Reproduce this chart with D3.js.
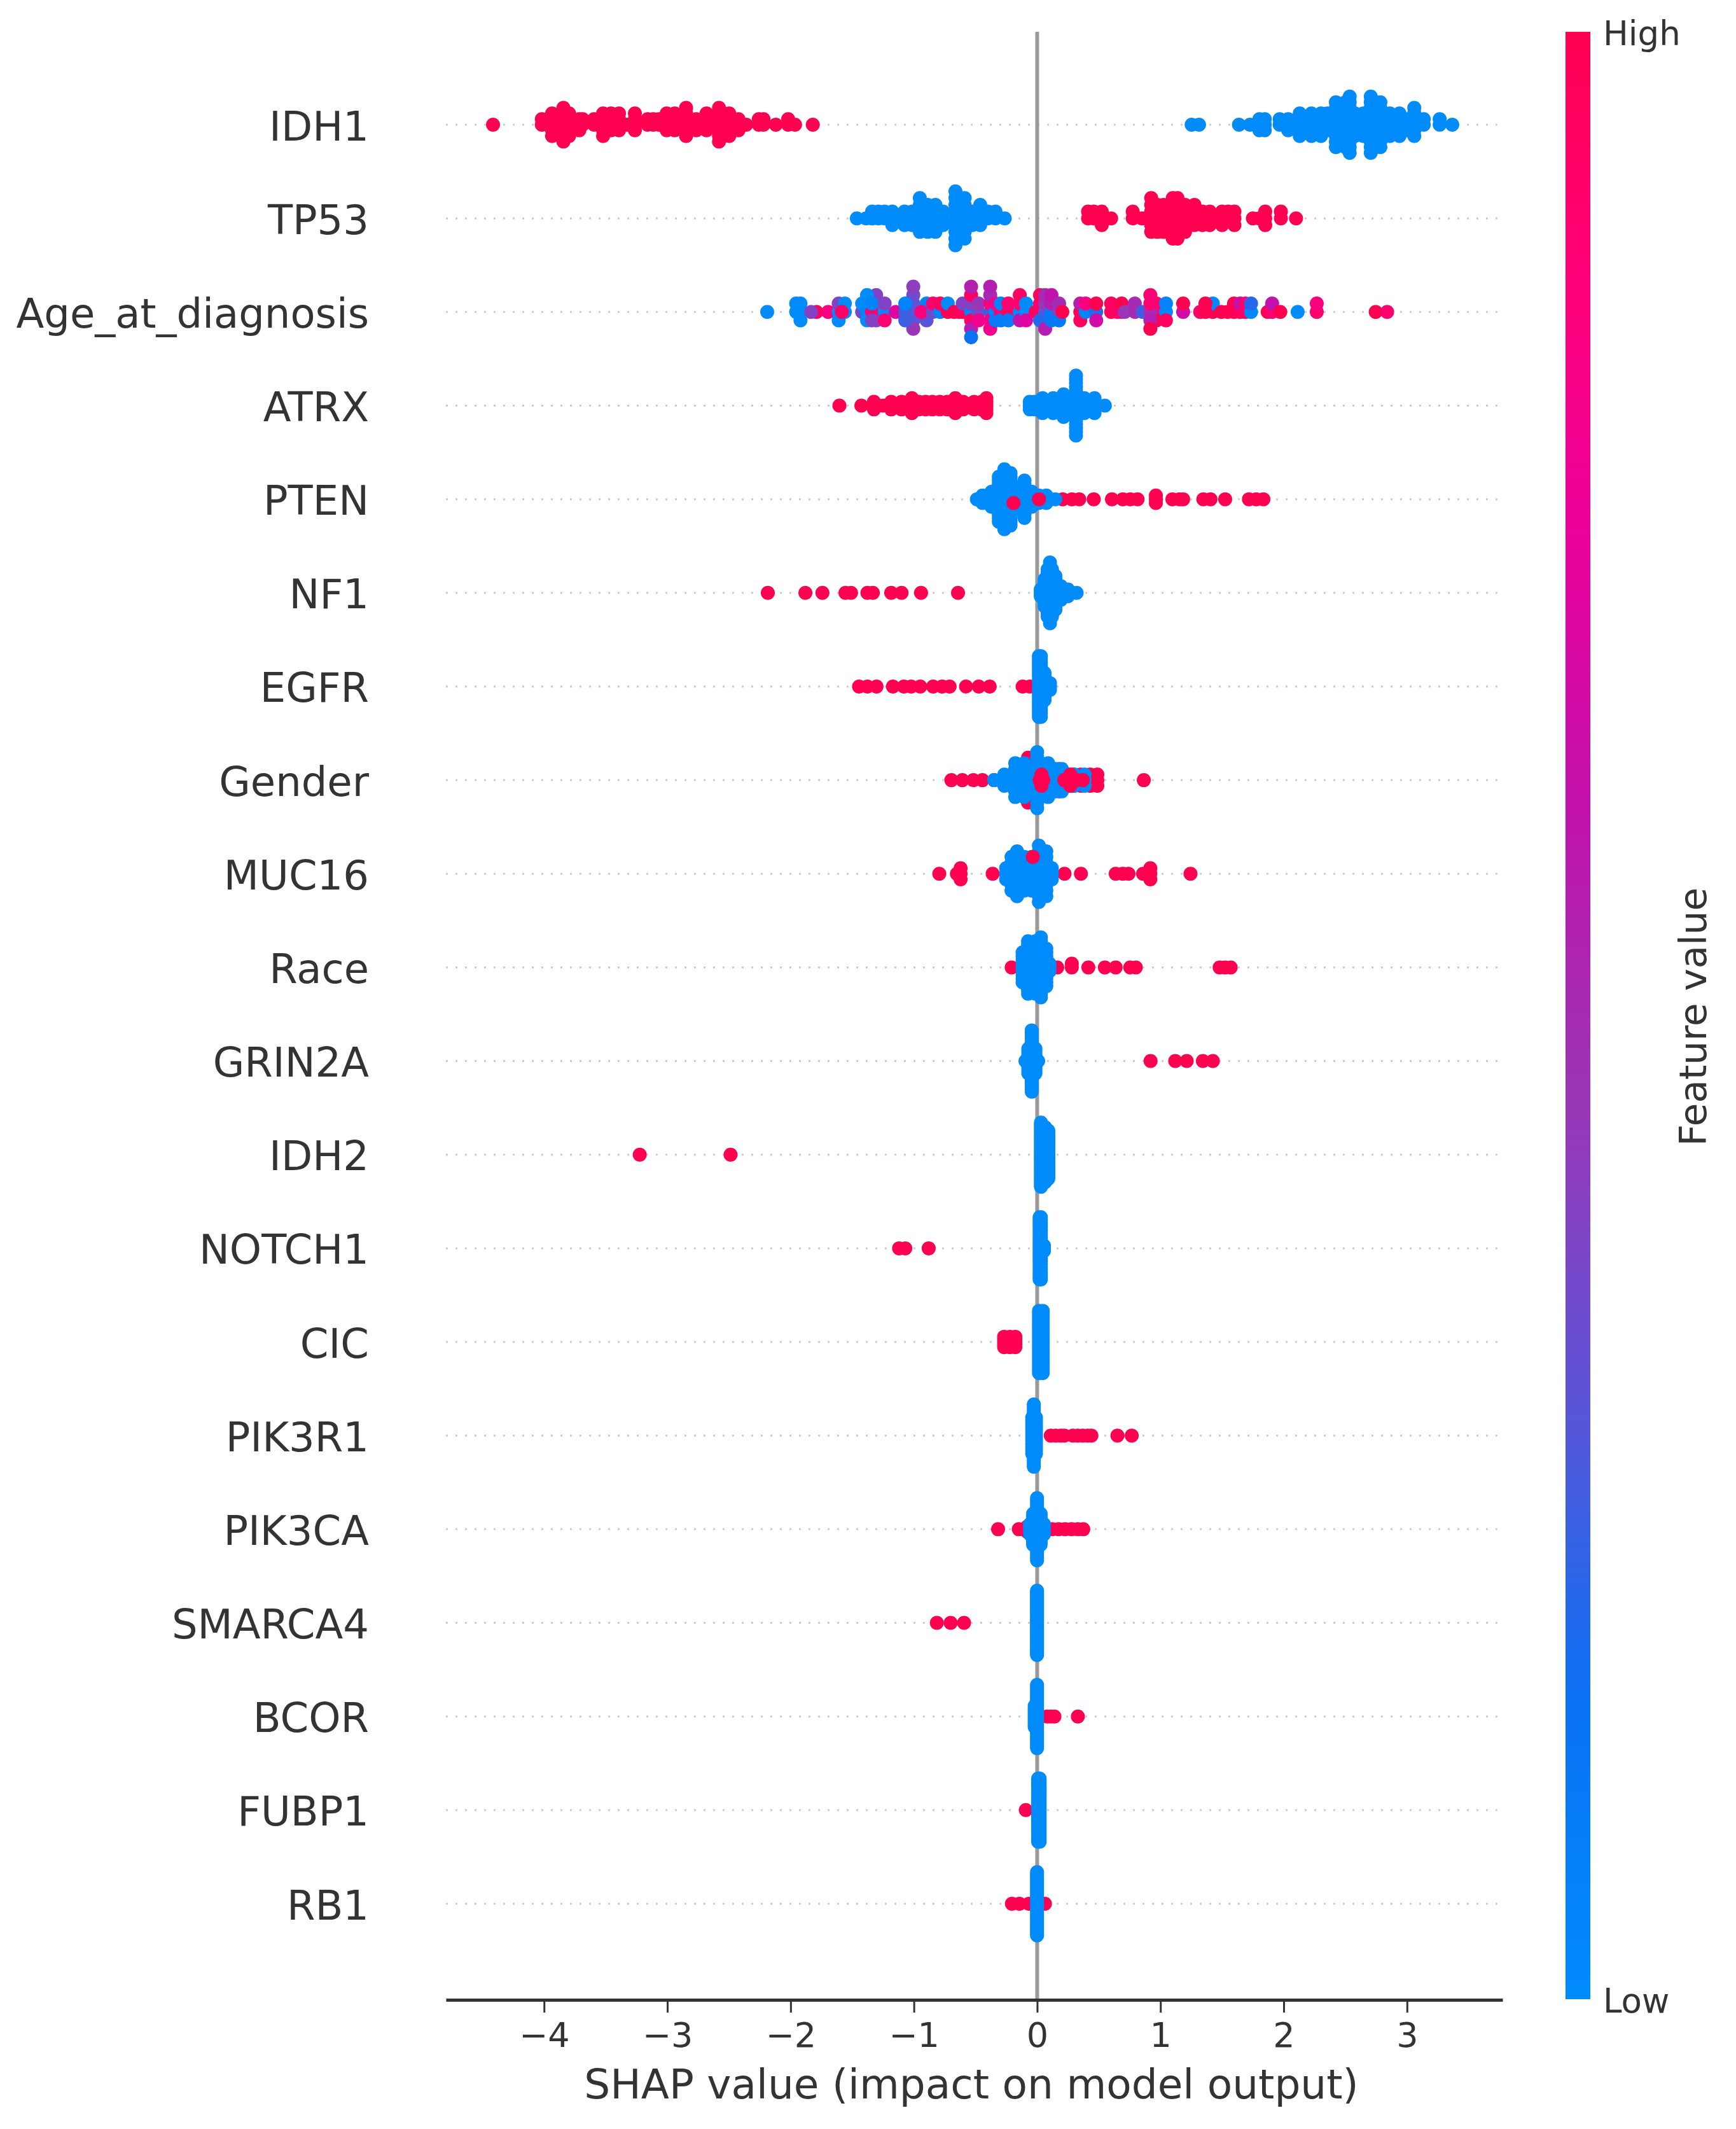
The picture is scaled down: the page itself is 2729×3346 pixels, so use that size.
<!DOCTYPE html>
<html>
<head>
<meta charset="utf-8">
<script src="https://cdn.jsdelivr.net/npm/d3@7"></script>
<style>
  html, body { margin: 0; padding: 0; background: #fff; }
  text { font-family: "DejaVu Sans", sans-serif; fill: #333; }
</style>
</head>
<body>
<svg id="chart"></svg>
<script>
// Feature names, top to bottom
const features = ["IDH1", "TP53", "Age_at_diagnosis", "ATRX", "PTEN", "NF1", "EGFR", "Gender", "MUC16", "Race",
  "GRIN2A", "IDH2", "NOTCH1", "CIC", "PIK3R1", "PIK3CA", "SMARCA4", "BCOR", "FUBP1", "RB1"];
const xTicks = [-4, -3, -2, -1, 0, 1, 2, 3];

// Each pair is [SHAP value, how many samples pile up at that value]
const idh1High = [[-4.414,1],[-4.018,2],[-3.935,5],[-3.843,7],[-3.797,5],[-3.714,3],[-3.687,2],[-3.594,2],[-3.521,5],[-3.456,4],[-3.392,4],[-3.327,1],[-3.263,4],[-3.16,2],[-3.114,2],[-3.068,2],[-3.005,4],[-2.94,4],[-2.848,6],[-2.765,3],[-2.682,4],[-2.581,7],[-2.498,5],[-2.423,3],[-2.36,1],[-2.258,2],[-2.22,2],[-2.12,1],[-2.02,2],[-1.964,1],[-1.82,1]];
const idh1Low = [[1.253,1],[1.313,1],[1.637,1],[1.726,1],[1.803,3],[1.846,3],[1.967,2],[2.036,3],[2.13,5],[2.225,5],[2.302,5],[2.354,4],[2.423,9],[2.5,9],[2.535,11],[2.577,5],[2.646,5],[2.706,11],[2.784,9],[2.861,5],[2.939,5],[3.007,3],[3.059,6],[3.136,2],[3.265,2],[3.367,1]];
const tp53High = [[0.413,2],[0.46,2],[0.524,3],[0.6,1],[0.775,2],[0.85,1],[0.925,6],[0.975,5],[1.025,5],[1.1,7],[1.138,7],[1.2,5],[1.276,4],[1.34,3],[1.4,3],[1.5,3],[1.55,2],[1.6,3],[1.75,1],[1.8,1],[1.85,3],[1.977,2],[2.1,1]];
const tp53Low = [[-1.463,1],[-1.388,1],[-1.339,2],[-1.288,2],[-1.238,2],[-1.175,3],[-1.076,3],[-1.014,3],[-0.952,6],[-0.888,5],[-0.825,5],[-0.763,3],[-0.663,9],[-0.588,7],[-0.525,3],[-0.462,4],[-0.4,2],[-0.338,2],[-0.263,1]];
// Age has mixed colours: [SHAP value, feature values from the middle of the pile outwards]
const ageColumns = [[-2.19,[0]],[-1.79,[.95]],[-1.955,[0,0]],[-1.92,[0,0,0]],[-1.834,[.4]],[-1.696,[.85]],[-1.61,[0,.4,0]],[-1.56,[0,0]],[-1.585,[.93]],
  [-1.306,[.9,.4,.4,.4]],[-1.42,[.35,0]],[-1.38,[.05,0,0,0]],[-1.34,[.9,.05,.4]],[-1.237,[0,.4,.9]],[-1.147,[.7]],[-1.005,[.3,.3,.3,.35,.45,.42]],[-1.07,[.25,.05,.25]],[-0.897,[.1,.05,.3]],[-0.94,[.85]],
  [-0.845,[.35,.9]],[-0.787,[.05,.95]],[-0.725,[1,0]],[-0.673,[1]],[-0.63,[.97]],[-0.604,[.97,.4]],[-0.536,[.05,.4,.95,.95,.55,.55,.15]],[-0.476,[.35,.45,.8]],[-0.381,[.25,.85,.8,.5,.8,.55]],[-0.338,[.05,.8,.1]],[-0.295,[.9,.05,.1]],[-0.234,[.95,.9,.08]],[-0.141,[.02,.9,.6,.95]],[-0.09,[0,0,.7]],[-0.012,[.97]],
  [0.023,[.95,.9,.2,.97]],[0.065,[.3,.45,.2,.5,.55]],[0.116,[.1,.55,.12,.6]],[0.178,[.4,.5,.12]],[0.204,[1]],[0.35,[.98,.55,.95]],[0.393,[.05,.85]],[0.479,[.2,1,.65]],[0.6,[.95,.95]],[0.651,[.95]],[0.685,[.9,1]],[0.71,[.45]],[0.792,[.5,.5]],[0.857,[.25]],[0.968,[.85,.9,1]],[0.918,[.5,.9,.55,.9,1]],[1.045,[.02,.05,.95]],[1.184,[.65,1]],[1.322,[.92]],[1.425,[1,.02]],[1.365,[1,1]],[1.494,[1]],[1.545,[1]],[1.597,[1,1]],[1.648,[.95,.6]],[1.69,[.95,.9]],[1.735,[.02,.2]],[1.87,[.98]],[1.906,[.9,.6]],[1.972,[1]],[2.113,[0]],[2.268,[.92,.85]],[2.746,[1]],[2.839,[.9]]];
const atrxHigh = [[-1.604,1],[-1.426,1],[-1.324,3],[-1.25,1],[-1.184,3],[-1.1,3],[-1.016,5],[-0.96,3],[-0.905,3],[-0.85,3],[-0.79,3],[-0.73,3],[-0.664,5],[-0.6,3],[-0.513,3],[-0.45,3],[-0.412,5]];
const atrxLow = [[-0.06,3],[-0.02,3],[0.044,5],[0.13,5],[0.214,7],[0.315,17],[0.382,5],[0.465,5],[0.549,1]];
const ptenHigh = [[0.207,1],[0.282,1],[0.341,1],[0.459,1],[0.607,1],[0.695,1],[0.756,1],[0.814,1],[0.963,3],[1.097,1],[1.155,1],[1.184,1],[1.348,1],[1.406,1],[1.525,1],[1.718,1],[1.777,1],[1.835,1]];
const ptenLow = [[-0.489,1],[-0.444,3],[-0.37,5],[-0.311,13],[-0.266,17],[-0.216,15],[-0.163,7],[-0.103,11],[-0.044,5],[0.014,3],[0.074,3],[0.147,1]];
const ptenOver = [[-0.192,[null,null,1]],[0.015,[1]]];
const nf1High = [[-2.185,1],[-1.88,1],[-1.742,1],[-1.555,1],[-1.51,1],[-1.377,1],[-1.333,1],[-1.184,1],[-1.1,1],[-0.942,1],[-0.642,1]];
const nf1Low = [[0.029,3],[0.06,9],[0.085,15],[0.104,19],[0.12,15],[0.148,11],[0.193,5],[0.25,3],[0.32,1]];
const egfrHigh = [[-1.445,1],[-1.377,1],[-1.303,1],[-1.17,1],[-1.081,1],[-1.022,1],[-0.948,1],[-0.844,1],[-0.771,1],[-0.71,1],[-0.577,1],[-0.474,1],[-0.385,1],[-0.118,1],[-0.059,1]];
const egfrLow = [[0.014,19],[0.03,19],[0.06,9],[0.104,3]];
const genderHigh = [[-0.696,1],[-0.607,1],[-0.518,1],[-0.444,1],[-0.349,1],[-0.074,9],[0.03,5],[0.178,5],[0.25,3],[0.297,3],[0.354,3],[0.43,3],[0.488,3],[0.865,1]];
const genderLow = [[-0.349,1],[-0.266,3],[-0.178,7],[-0.105,7],[0,11],[0.089,7],[0.149,5],[0.2,5],[0.236,3],[0.3,3],[0.385,3]];
const genderOver = [[0.02,[1]],[0.05,[1]],[0.035,[1,1,1]],[0.22,[1]],[0.27,[1,1,1]],[0.32,[1]],[0.37,[1]]];
const muc16High = [[-0.794,1],[-0.651,1],[-0.621,3],[-0.361,1],[0.119,1],[0.222,1],[0.355,1],[0.637,1],[0.695,1],[0.741,1],[0.859,1],[0.918,3],[1.244,1]];
const muc16Low = [[-0.252,3],[-0.208,7],[-0.163,9],[-0.105,7],[-0.044,7],[0.014,11],[0.074,9],[0.119,3]];
const muc16Over = [[-0.035,[null,null,null,null,null,1]]];
const raceHigh = [[-0.207,1],[0.163,1],[0.281,2],[0.415,1],[0.549,1],[0.637,1],[0.755,1],[0.8,1],[1.48,1],[1.525,1],[1.57,1]];
const raceLow = [[-0.118,9],[-0.074,15],[-0.014,15],[0.03,17],[0.074,11],[0.1,3]];
const grin2aHigh = [[0.92,1],[1.12,1],[1.213,1],[1.344,1],[1.425,1]];
const grin2aLow = [[-0.095,1],[-0.072,9],[-0.044,21],[-0.014,9],[0.008,1]];
const idh2High = [[-3.224,1],[-2.487,1]];
const idh2Low = [[0.031,41],[0.065,35],[0.09,31]];
const notch1High = [[-1.12,1],[-1.07,1],[-0.88,1]];
const notch1Low = [[0.02,25],[0.03,25],[0.055,3]];
const cicHigh = [[-0.268,5],[-0.222,5],[-0.177,5]];
const cicLow = [[0.015,25],[0.045,25]];
const pik3r1High = [[0.11,1],[0.15,1],[0.19,1],[0.22,1],[0.29,1],[0.33,1],[0.37,1],[0.41,1],[0.44,1],[0.651,1],[0.767,1]];
const pik3r1Low = [[-0.04,15],[-0.027,25],[-0.01,15]];
const pik3caHigh = [[-0.317,1],[-0.149,1],[-0.08,3],[0.08,1],[0.122,1],[0.174,1],[0.226,1],[0.279,1],[0.33,1],[0.374,1]];
const pik3caLow = [[-0.058,5],[-0.033,13],[-0.001,25],[0.028,13],[0.054,5]];
const smarca4High = [[-0.814,1],[-0.702,1],[-0.593,1]];
const smarca4Low = [[-0.001,41]];
const bcorHigh = [[0.08,1],[0.11,1],[0.14,1],[0.33,1]];
const bcorLow = [[-0.02,11],[-0.001,31]];
const fubp1High = [[-0.092,1]];
const fubp1Low = [[0.008,31],[0.02,31]];
const rb1High = [[-0.205,1],[-0.144,1],[-0.067,1],[0.063,1]];
const rb1Low = [[-0.001,31]];

// Table of the rows in the same order as features
const high = [idh1High, tp53High, [], atrxHigh, ptenHigh, nf1High, egfrHigh, genderHigh, muc16High, raceHigh,
  grin2aHigh, idh2High, notch1High, cicHigh, pik3r1High, pik3caHigh, smarca4High, bcorHigh, fubp1High, rb1High];
const low = [idh1Low, tp53Low, [], atrxLow, ptenLow, nf1Low, egfrLow, genderLow, muc16Low, raceLow,
  grin2aLow, idh2Low, notch1Low, cicLow, pik3r1Low, pik3caLow, smarca4Low, bcorLow, fubp1Low, rb1Low];
const over = { 2: ageColumns, 4: ptenOver, 7: genderOver, 8: muc16Over };

// Colour bar, low to high
const colorAt = [0, 0.15, 0.3, 0.45, 0.6, 0.75, 0.88, 1];
const colorStops = ["#008bfb", "#0a72f5", "#5a55d8", "#9838b8", "#c012ac", "#ec009a", "#ff0076", "#ff0051"];

// Page size and plot box
const width = 2729, height = 3346;
const left = 701, right = 2362, axisY = 3143;
const pileHalf = 53;
const dotR = 11;

const svg = d3.select("#chart")
  .attr("width", width)
  .attr("height", height)
  .style("display", "block");

const x = d3.scaleLinear().domain([-4.796, 3.775]).range([left, right]);
const y = d3.scalePoint().domain(features).range([196, 2992]);
const color = d3.scaleLinear().domain(colorAt).range(colorStops);

// Row guide lines
svg.append("g")
  .selectAll("line")
  .data(features)
  .enter()
  .append("line")
  .attr("x1", left)
  .attr("x2", right)
  .attr("y1", d => y(d))
  .attr("y2", d => y(d))
  .attr("stroke", "#ccc")
  .attr("stroke-width", 3)
  .attr("stroke-dasharray", "3 12");

// Zero line
svg.append("line")
  .attr("x1", x(0))
  .attr("x2", x(0))
  .attr("y1", 50)
  .attr("y2", axisY)
  .attr("stroke", "#999")
  .attr("stroke-width", 6);

// One column of dots: lane 0 is the middle, then one up, one down, and so on
function pile(value, feats) {
  return feats
    .map((fv, l) => ({ value, fv, lane: Math.ceil(l / 2) * (l % 2 ? -1 : 1) }))
    .filter(d => d.fv !== null);
}

features.forEach((name, i) => {
  const pts = [
    ...high[i].flatMap(([v, n]) => pile(v, Array(n).fill(1))),
    ...low[i].flatMap(([v, n]) => pile(v, Array(n).fill(0))),
    ...(over[i] || []).flatMap(([v, fvs]) => pile(v, fvs))
  ];
  const maxLane = d3.max(pts, d => Math.abs(d.lane));
  const step = pileHalf / (maxLane + 1);

  svg.append("g")
    .selectAll("circle")
    .data(pts)
    .enter()
    .append("circle")
    .attr("cx", d => x(d.value))
    .attr("cy", d => y(name) + d.lane * step)
    .attr("r", dotR)
    .attr("fill", d => color(d.fv));
});

// X axis
const xAxis = svg.append("g")
  .attr("transform", `translate(0,${axisY})`)
  .call(d3.axisBottom(x).tickValues(xTicks).tickSize(20).tickSizeOuter(0).tickPadding(16));
xAxis.select(".domain").attr("stroke", "#333").attr("stroke-width", 5);
xAxis.selectAll(".tick line").attr("stroke", "#333").attr("stroke-width", 3);
xAxis.selectAll("text").style("font-size", "54px").attr("fill", "#333");

svg.append("text")
  .attr("x", 1527)
  .attr("y", 3298)
  .attr("text-anchor", "middle")
  .style("font-size", "64.5px")
  .text("SHAP value (impact on model output)");

// Feature labels
const yAxis = svg.append("g")
  .attr("transform", `translate(${left},0)`)
  .call(d3.axisLeft(y).tickSize(0).tickPadding(121));
yAxis.select(".domain").remove();
yAxis.selectAll("text").attr("dy", "0.375em").style("font-size", "64px").attr("fill", "#333");

// Colour bar
const barX = 2461, barW = 39, barTop = 50, barBottom = 3142;
const grad = svg.append("defs").append("linearGradient")
  .attr("id", "fv")
  .attr("x1", 0).attr("x2", 0).attr("y1", 1).attr("y2", 0);
grad.selectAll("stop")
  .data(colorAt)
  .enter()
  .append("stop")
  .attr("offset", d => d)
  .attr("stop-color", d => color(d));
svg.append("rect")
  .attr("x", barX)
  .attr("y", barTop)
  .attr("width", barW)
  .attr("height", barBottom - barTop)
  .attr("fill", "url(#fv)");

svg.append("text").attr("x", 2520).attr("y", 71).style("font-size", "53px").text("High");
svg.append("text").attr("x", 2520).attr("y", 3163).style("font-size", "53px").text("Low");
svg.append("text")
  .attr("transform", "translate(2682,1598) rotate(-90)")
  .attr("text-anchor", "middle")
  .style("font-size", "59.5px")
  .text("Feature value");
</script>
</body>
</html>
